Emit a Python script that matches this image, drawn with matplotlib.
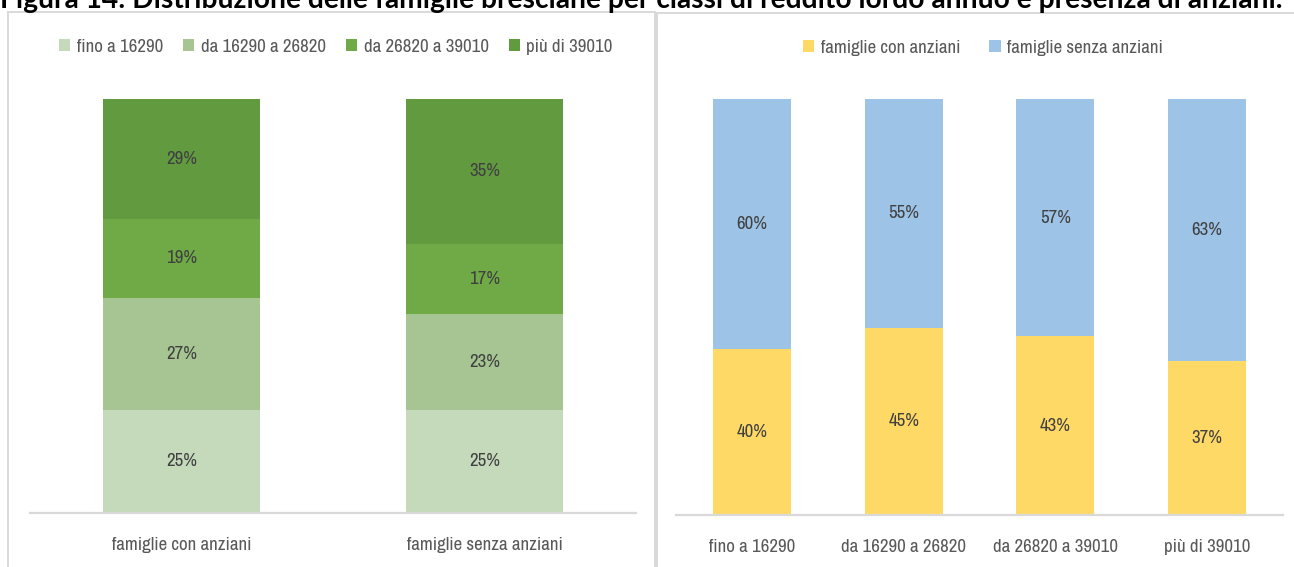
import matplotlib
matplotlib.use("Agg")
import matplotlib.pyplot as plt
from matplotlib import font_manager
from matplotlib.font_manager import FontProperties
from matplotlib.lines import Line2D
import numpy as np

# ---------------- data ----------------
title = "Figura 14: Distribuzione delle famiglie bresciane per classi di reddito lordo annuo e presenza di anziani."

left_categories = ["famiglie con anziani", "famiglie senza anziani"]
income_classes = ["fino a 16290", "da 16290 a 26820", "da 26820 a 39010", "più di 39010"]
fino_16290 = [25, 25]
da_16290_26820 = [27, 23]
da_26820_39010 = [19, 17]
piu_39010 = [29, 35]

right_categories = ["fino a 16290", "da 16290 a 26820", "da 26820 a 39010", "più di 39010"]
right_series = ["famiglie con anziani", "famiglie senza anziani"]
con_anziani = [40, 45, 43, 37]
senza_anziani = [60, 55, 57, 63]

# ---------------- fonts ----------------
def narrow_props():
    names = sorted({f.name for f in font_manager.fontManager.ttflist})
    for n in names:
        if "Narrow" in n or ("Condensed" in n and "DejaVu" not in n):
            return dict(family=n)
    fp = FontProperties(family="DejaVu Sans", stretch="condensed")
    try:
        p = font_manager.findfont(fp, fallback_to_default=False)
        if "ondensed" in p:
            return dict(family="DejaVu Sans", stretch="condensed")
    except Exception:
        pass
    return dict(family="Roboto")

NP = narrow_props()
boldf = "Lato"

green_cols = ["#c5d9bb", "#a6c592", "#6faa46", "#629a40"]
yellow = "#ffd966"
blue = "#9dc3e6"
txt_col = "#595959"
lbl_col = "#404040"
grid_col = "#d9d9d9"

W, H = 1294, 567
fig = plt.figure(figsize=(W / 100, H / 100), dpi=100)
fig.canvas.draw()
renderer = fig.canvas.get_renderer()

def fit_size(text, target_px, **props):
    t = fig.text(0, 0, text, fontsize=10, **props)
    w = t.get_window_extent(renderer).width
    t.remove()
    return 10 * target_px / w

FS = fit_size("famiglie con anziani", 140, **NP)

def fx(px):
    return px / W

def fy(py):
    return 1 - py / H

# panel borders
for xs, ys in [([8, 8], [12, 600]), ([8, 655], [12, 12]), ([655, 655], [12, 600]),
               ([657, 657], [13, 600]), ([657, 1300], [13, 13])]:
    fig.add_artist(Line2D([fx(x) for x in xs], [fy(y) for y in ys], color=grid_col, lw=1.4,
                          transform=fig.transFigure))

# title (clipped at the top, as in the reference)
tfs = fit_size(title, 1283, family=boldf, fontweight="bold")
fig.text(fx(0), fy(8), title, fontsize=tfs, fontweight="bold", family=boldf,
         color="black", ha="left", va="baseline")

def style_ax(ax, cats):
    for s in ["top", "right", "left"]:
        ax.spines[s].set_visible(False)
    ax.spines["bottom"].set_color(grid_col)
    ax.spines["bottom"].set_linewidth(1.6)
    ax.set_yticks([])
    ax.set_xticks(range(len(cats)))
    ax.set_xticklabels(cats, fontsize=FS, color=txt_col, **NP)
    ax.tick_params(axis="x", length=0, pad=17)
    ax.set_xlim(-0.5, len(cats) - 0.5)
    ax.set_ylim(0, 100)

leg_kw = dict(loc="center", frameon=False, handlelength=0.6, handleheight=0.6,
              handletextpad=0.35, borderaxespad=0)
leg_prop = dict(size=FS, **NP)

# ---------- left chart ----------
axL = fig.add_axes([fx(30), 1 - 513 / H, fx(606), 414 / H])
xL = np.arange(len(left_categories))
bottom = np.zeros(len(left_categories))
for name, vals, col in zip(income_classes, [fino_16290, da_16290_26820, da_26820_39010, piu_39010], green_cols):
    axL.bar(xL, vals, bottom=bottom, width=0.515, color=col, label=name)
    for xi, v, bt in zip(xL, vals, bottom):
        axL.text(xi, bt + v / 2, f"{v}%", ha="center", va="center", fontsize=FS, color=lbl_col, **NP)
    bottom += np.array(vals)
style_ax(axL, left_categories)
legL = axL.legend(bbox_to_anchor=((336 - 30) / 606, (567 - 47 - 54) / 414), ncol=4,
                  prop=leg_prop, columnspacing=1.05, **leg_kw)
for tx in legL.get_texts():
    tx.set_color(txt_col)

# ---------- right chart ----------
axR = fig.add_axes([fx(676), 1 - 515 / H, fx(607), 416 / H])
xR = np.arange(len(right_categories))
axR.bar(xR, con_anziani, width=0.515, color=yellow, label=right_series[0])
axR.bar(xR, senza_anziani, bottom=con_anziani, width=0.515, color=blue, label=right_series[1])
for xi, a, s in zip(xR, con_anziani, senza_anziani):
    axR.text(xi, a / 2, f"{a}%", ha="center", va="center", fontsize=FS, color=lbl_col, **NP)
    axR.text(xi, a + s / 2, f"{s}%", ha="center", va="center", fontsize=FS, color=lbl_col, **NP)
style_ax(axR, right_categories)
legR = axR.legend(bbox_to_anchor=((983 - 676) / 607, (567 - 48 - 52) / 416), ncol=2,
                  prop=leg_prop, columnspacing=1.55, **leg_kw)
for tx in legR.get_texts():
    tx.set_color(txt_col)

fig.savefig("out.png", dpi=100)
